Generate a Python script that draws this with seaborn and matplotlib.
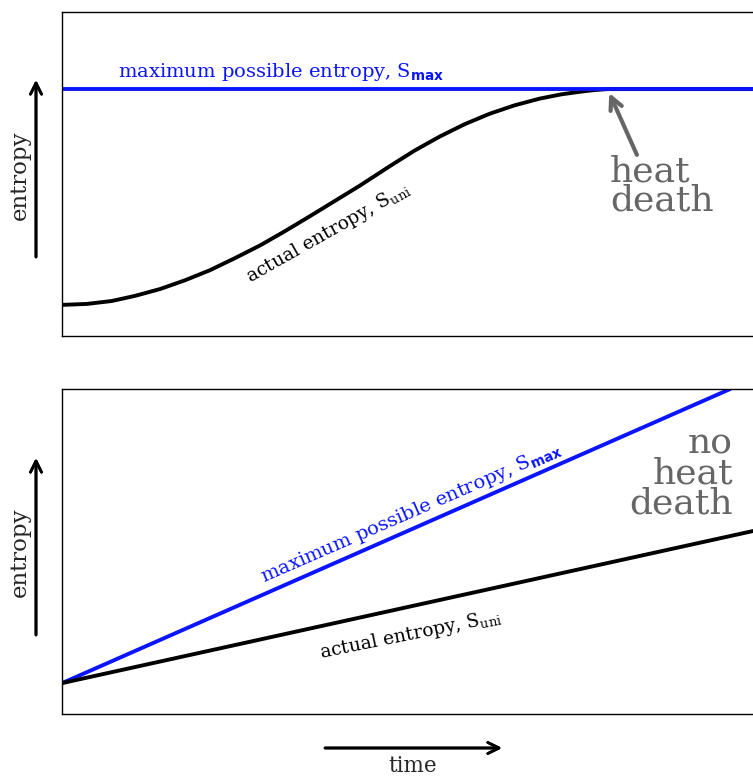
import numpy as np
import pandas as pd
import matplotlib
matplotlib.use("Agg")
import matplotlib.pyplot as plt
import seaborn as sns

# values (time and entropy on a 0-10 scale)
top_time = [0.0, 0.36, 0.72, 1.06, 1.42, 1.78, 2.14, 2.50, 2.87, 3.23,
            3.59, 3.95, 4.31, 4.75, 5.10, 5.47, 5.83, 6.19, 6.55, 6.92,
            7.23, 7.50, 7.70, 7.89, 10.0]
top_actual = [0.96, 0.99, 1.08, 1.24, 1.45, 1.72, 2.03, 2.40, 2.80, 3.24,
              3.70, 4.17, 4.64, 5.25, 5.72, 6.16, 6.54, 6.86, 7.12, 7.33,
              7.46, 7.54, 7.59, 7.62, 7.62]
top_max = [7.62, 7.62]
top_max_time = [0.0, 10.0]

bot_max_time = [0.0, 9.67]
bot_max = [0.95, 10.0]
bot_actual_time = [0.0, 10.0]
bot_actual = [0.95, 5.63]

sns.set_style("white")
plt.rcParams['font.family'] = ['DejaVu Serif']
plt.rcParams['mathtext.fontset'] = 'custom'
plt.rcParams['mathtext.rm'] = 'DejaVu Serif'
plt.rcParams['mathtext.bf'] = 'DejaVu Sans:bold'

W, H = 753, 778
fig = plt.figure(figsize=(W / 100, H / 100), dpi=100)
ax1 = fig.add_axes([62 / W, (H - 336) / H, (753 - 62) / W, 324 / H])
ax2 = fig.add_axes([62 / W, (H - 714) / H, (753 - 62) / W, 325 / H])

blue = '#0a14ff'
gray = '#666666'

# --- top panel: heat death
top_df = pd.DataFrame({'time': top_time, 'entropy': top_actual})
sns.lineplot(data=top_df, x='time', y='entropy', ax=ax1, color='black', lw=2.8)
sns.lineplot(x=top_max_time, y=top_max, ax=ax1, color=blue, lw=2.8)

ax1.text(0.81, 8.15, r'maximum possible entropy, S$_\mathbf{max}$', color=blue,
         fontsize=14, ha='left', va='center')
ax1.text(3.86, 3.20, r'actual entropy, S$_\mathrm{uni}$', color='black',
         fontsize=13.5, ha='center', va='center', rotation=29.5,
         rotation_mode='anchor')
ax1.annotate('', xy=(7.92, 7.50), xytext=(8.32, 5.59),
             arrowprops=dict(arrowstyle='->', color=gray, lw=3,
                             mutation_scale=22, shrinkA=0, shrinkB=0))
ax1.text(7.93, 4.63, 'heat\ndeath', color=gray, fontsize=26,
         ha='left', va='center', linespacing=0.85)

# --- bottom panel: no heat death
sns.lineplot(x=bot_max_time, y=bot_max, ax=ax2, color=blue, lw=2.8)
sns.lineplot(x=bot_actual_time, y=bot_actual, ax=ax2, color='black', lw=2.8)

ax2.text(5.05, 6.18, r'maximum possible entropy, S$_\mathbf{max}$', color=blue,
         fontsize=14, ha='center', va='center', rotation=23.5,
         rotation_mode='anchor')
ax2.text(5.05, 2.45, r'actual entropy, S$_\mathrm{uni}$', color='black',
         fontsize=13.5, ha='center', va='center', rotation=11.5,
         rotation_mode='anchor')
ax2.text(9.71, 7.40, 'no\nheat\ndeath', color=gray, fontsize=26,
         ha='right', va='center', linespacing=0.85)

for ax in (ax1, ax2):
    ax.set_xlim(0, 10)
    ax.set_ylim(0, 10)
    ax.set_xticks([])
    ax.set_yticks([])
    ax.set_xlabel('')
    ax.set_ylabel('')
    ax.spines['right'].set_visible(False)
    for s in ('top', 'left', 'bottom'):
        ax.spines[s].set_color('black')
        ax.spines[s].set_linewidth(1)

# axis arrows and labels drawn in figure pixels
arrow = dict(arrowstyle='->', color='black', lw=2, mutation_scale=20,
             shrinkA=0, shrinkB=0)
for y0, y1, yl in [(H - 257, H - 80, H - 175), (H - 635, H - 458, H - 552)]:
    fig.add_artist(plt.annotate('', xy=(36, y1), xytext=(36, y0),
                                xycoords='figure pixels',
                                textcoords='figure pixels', arrowprops=arrow))
    fig.text(20 / W, yl / H, 'entropy', rotation=90, fontsize=16.5,
             ha='center', va='center')

fig.add_artist(plt.annotate('', xy=(502, H - 748), xytext=(325, H - 748),
                            xycoords='figure pixels',
                            textcoords='figure pixels', arrowprops=arrow))
fig.text(413 / W, (H - 766) / H, 'time', fontsize=15.5, ha='center', va='center')

fig.savefig('out.png', dpi=100)
